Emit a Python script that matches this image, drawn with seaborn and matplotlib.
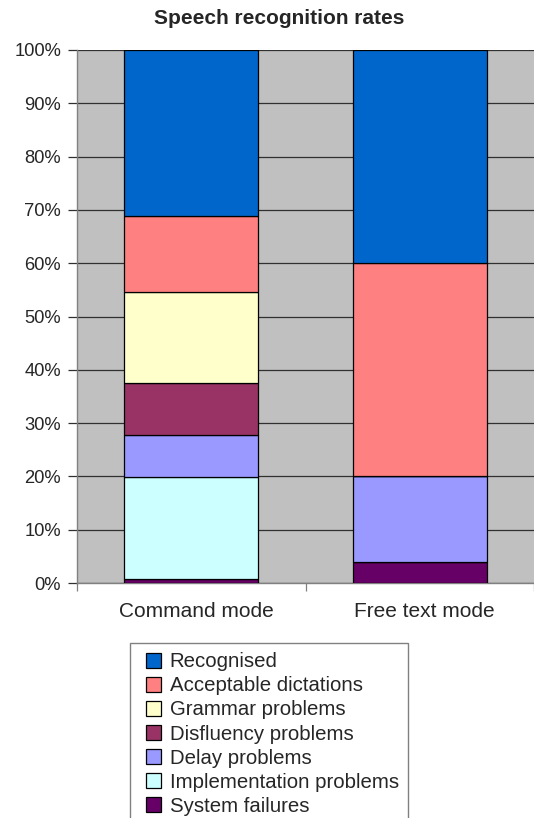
"""
Speech recognition rates: 100% stacked bars for command mode vs free text mode.
"""

import numpy as np
import matplotlib
matplotlib.use("Agg")
import matplotlib.pyplot as plt
from matplotlib.patches import Patch, Rectangle
from matplotlib.legend_handler import HandlerPatch
from matplotlib.ticker import FixedLocator, PercentFormatter
from matplotlib.transforms import ScaledTranslation
import seaborn as sns

sns.set_style("white")
plt.rcParams['font.family'] = ['Liberation Sans', 'DejaVu Sans']

# Data (percent of utterances), bottom to top of each stack
modes = ['Command mode', 'Free text mode']
categories = ['System failures', 'Implementation problems', 'Delay problems',
              'Disfluency problems', 'Grammar problems', 'Acceptable dictations',
              'Recognised']
system_failures = [0.7, 4.0]
implementation_problems = [19.2, 0.0]
delay_problems = [7.8, 16.0]
disfluency_problems = [9.9, 0.0]
grammar_problems = [17.0, 0.0]
acceptable_dictations = [14.2, 40.0]
recognised = [31.2, 40.0]

series = [system_failures, implementation_problems, delay_problems,
          disfluency_problems, grammar_problems, acceptable_dictations, recognised]
colors = ['#660066', '#CCFFFF', '#9999FF', '#993366', '#FFFFCC', '#FF8080', '#0066CC']

fig = plt.figure(figsize=(5.34, 8.18), dpi=100)
ax = fig.add_axes([77 / 534, 1 - 583 / 818, 1 - 77 / 534, (583 - 50) / 818])
ax.set_facecolor('#C0C0C0')

# Stack the bars
bottom = np.zeros(len(modes))
for vals, col in zip(series, colors):
    sns.barplot(x=modes, y=vals, bottom=bottom, color=col, saturation=1,
                width=0.585, errorbar=None, edgecolor='black', linewidth=0.9,
                zorder=3, ax=ax)
    bottom = bottom + np.array(vals)

ax.set_xlim(-0.5, 1.5)
ax.set_ylim(0, 100)
ax.yaxis.set_major_locator(FixedLocator(np.arange(0, 101, 10)))
ax.yaxis.set_major_formatter(PercentFormatter(decimals=0))
ax.grid(axis='y', color='#303030', linewidth=0.9, zorder=1)
ax.set_axisbelow(True)
ax.set_xlabel('')
ax.set_ylabel('')

for side in ['top', 'right']:
    ax.spines[side].set_visible(False)
for side in ['left', 'bottom']:
    ax.spines[side].set_color('#808080')
    ax.spines[side].set_linewidth(1.0)

ax.tick_params(axis='y', which='major', left=True, length=6.5, width=0.9,
               color='#303030', labelsize=13.2, pad=5)
ax.tick_params(axis='x', which='major', bottom=False, labelsize=15, pad=10)
ax.set_xticks([-0.5, 0.5, 1.5], minor=True)
ax.tick_params(axis='x', which='minor', bottom=True, length=6, width=0.9,
               color='#808080', direction='out')
# category labels sit a little right of the bar centres
shift = ScaledTranslation(5 / 100, 0, fig.dpi_scale_trans)
for lab in ax.get_xticklabels():
    lab.set_transform(lab.get_transform() + shift)

fig.suptitle('Speech recognition rates', x=279 / 534, y=1 - 18 / 818, va='center',
             fontsize=15, fontweight='bold')


def square_handle(legend, orig_handle, xdescent, ydescent, width, height, fontsize):
    # square swatch pushed to the right end of the handle box
    return Rectangle((-xdescent + width - height, -ydescent), height, height)


# Legend, top entry first
handles = [Patch(facecolor=c, edgecolor='black', linewidth=0.9, label=l)
           for c, l in zip(colors[::-1], categories[::-1])]
leg = fig.legend(handles=handles, loc='upper left',
                 bbox_to_anchor=(130 / 534, 1 - 643 / 818),
                 handler_map={Patch: HandlerPatch(patch_func=square_handle)},
                 fontsize=14.7, frameon=True, fancybox=False,
                 edgecolor='#808080', framealpha=1, borderpad=0.45,
                 labelspacing=0.25, handlelength=1.05, handleheight=0.75,
                 handletextpad=0.45, borderaxespad=0)
leg.get_frame().set_linewidth(1.0)

plt.savefig('out.png', dpi=100)
plt.close()
